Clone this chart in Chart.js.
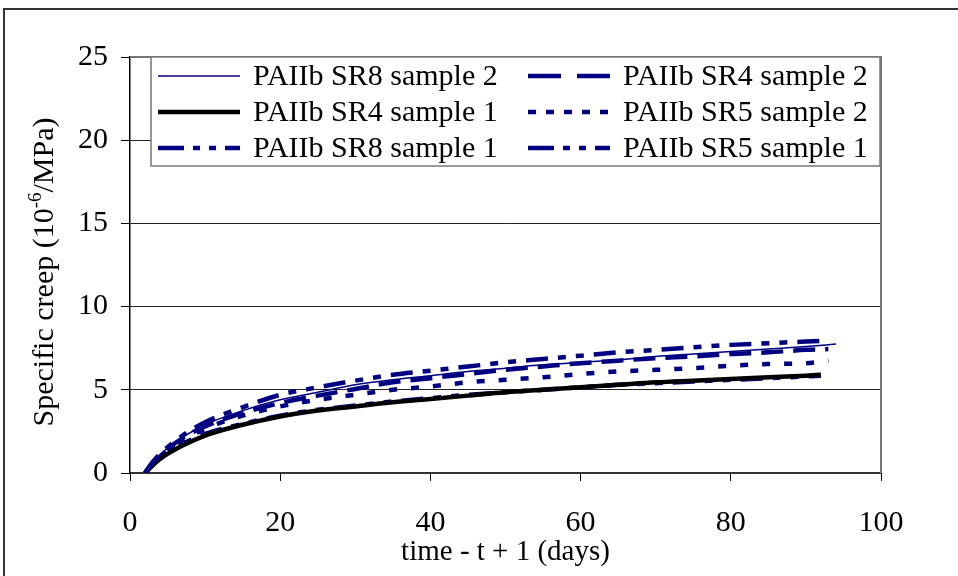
<!DOCTYPE html>
<html>
<head>
<meta charset="utf-8">
<script src="https://cdn.jsdelivr.net/npm/chart.js@4.4.1/dist/chart.umd.min.js"></script>
<style>
  body { margin: 0; background: #fff; overflow: hidden; }
  #wrap { position: relative; width: 958px; height: 576px; overflow: hidden; }
  #frame { position: absolute; left: 3px; top: 8px; width: 1000px; height: 1000px; border: 2px solid #333; pointer-events: none; }
  canvas { position: absolute; left: 0; top: 0; }
</style>
</head>
<body>
<div id="wrap">
  <canvas id="creepChart" width="958" height="576"></canvas>
  <div id="frame"></div>
</div>
<script>
// Specific creep curves
const days = [2, 3, 4, 5, 7, 10, 15, 20, 25, 30, 35, 40, 45, 50, 55, 60, 65, 70, 75, 80, 85, 90];
const seriesNames = ['PAIIb SR8 sample 2', 'PAIIb SR4 sample 2', 'PAIIb SR4 sample 1',
                     'PAIIb SR5 sample 2', 'PAIIb SR8 sample 1', 'PAIIb SR5 sample 1'];
const endDays = [94, 93, 92, 93, 93, 92];   // last reading of each series

const sr8s2 = [0, 0.6, 1.1, 1.5, 2.15, 2.9, 3.75, 4.4, 4.85, 5.3, 5.6, 5.85, 6.1, 6.3, 6.5, 6.65, 6.8, 7.0, 7.15, 7.3, 7.45, 7.6, 7.75];
const sr4s2 = [0, 0.6, 1.05, 1.45, 2.1, 2.8, 3.6, 4.2, 4.65, 5.05, 5.45, 5.7, 5.95, 6.2, 6.4, 6.6, 6.75, 6.9, 7.0, 7.15, 7.25, 7.4, 7.45];
const sr4s1 = [0, 0.45, 0.85, 1.15, 1.65, 2.25, 2.9, 3.4, 3.75, 4.0, 4.25, 4.45, 4.65, 4.85, 5.0, 5.15, 5.3, 5.45, 5.55, 5.65, 5.75, 5.85, 5.9];
const sr5s2 = [0, 0.55, 1.0, 1.35, 1.95, 2.65, 3.45, 4.0, 4.4, 4.7, 5.0, 5.2, 5.45, 5.6, 5.75, 5.95, 6.1, 6.2, 6.3, 6.45, 6.55, 6.6, 6.75];
const sr8s1 = [0, 0.65, 1.15, 1.55, 2.25, 3.05, 3.95, 4.7, 5.15, 5.55, 5.9, 6.15, 6.4, 6.65, 6.85, 7.05, 7.25, 7.4, 7.55, 7.7, 7.8, 7.9, 7.95];
const sr5s1 = [0, 0.5, 0.9, 1.25, 1.75, 2.35, 2.95, 3.45, 3.8, 4.05, 4.3, 4.5, 4.7, 4.85, 5.0, 5.15, 5.3, 5.4, 5.5, 5.6, 5.7, 5.8, 5.85];

const xTicks = [0, 20, 40, 60, 80, 100];
const yTicks = [0, 5, 10, 15, 20, 25];

const FONT = '"Liberation Serif", "Times New Roman", serif';
const NAVY = '#000080';

function toPoints(vals, end) {
    return vals.map((v, i) => ({ x: i < days.length ? days[i] : end, y: v }));
}

function makeSet(i, vals, color, width, dash, legendDash) {
    return {
        label: seriesNames[i],
        data: toPoints(vals, endDays[i]),
        borderColor: color,
        borderWidth: width,
        borderDash: dash,
        legendDash: legendDash,
        pointRadius: 0,
        fill: false,
        cubicInterpolationMode: 'monotone'
    };
}

// custom legend: two columns inside a box over the plot
const boxLegend = {
    id: 'boxLegend',
    afterDraw(chart) {
        const c = chart.ctx;
        const box = { left: 151, top: 57, right: 880, bottom: 166 };
        c.save();
        c.fillStyle = '#fff';
        c.fillRect(box.left, box.top, box.right - box.left, box.bottom - box.top);
        c.strokeStyle = '#777';
        c.lineWidth = 1.5;
        c.strokeRect(box.left, box.top, box.right - box.left, box.bottom - box.top);

        const colX = [158, 528];
        const rowY = [76, 112, 148];
        c.font = '30px ' + FONT;
        c.textBaseline = 'middle';
        c.fillStyle = '#000';
        chart.data.datasets.forEach((ds, i) => {
            const x = colX[i % 2], y = rowY[Math.floor(i / 2)];
            c.beginPath();
            c.strokeStyle = ds.borderColor;
            c.lineWidth = ds.borderWidth;
            c.setLineDash(ds.legendDash || []);
            c.moveTo(x, y);
            c.lineTo(x + 82, y);
            c.stroke();
            c.setLineDash([]);
            c.fillText(ds.label, x + 95, y + 1);
        });
        c.restore();
    }
};

// y-axis title with superscript, plus grey top/right plot border
const extras = {
    id: 'extras',
    beforeDatasetsDraw(chart) {
        const a = chart.chartArea, c = chart.ctx;
        c.save();
        c.strokeStyle = '#777';
        c.lineWidth = 2;
        c.beginPath();
        c.moveTo(a.left, a.top);
        c.lineTo(a.right, a.top);
        c.lineTo(a.right, a.bottom);
        c.stroke();
        c.restore();
    },
    afterDraw(chart) {
        const c = chart.ctx;
        const parts = [['Specific creep (10', '30px ' + FONT, 0],
                       ['-6', '19px ' + FONT, -9],
                       ['/MPa)', '30px ' + FONT, 0]];
        c.save();
        c.translate(45, 272);
        c.rotate(-Math.PI / 2);
        c.textBaseline = 'middle';
        c.fillStyle = '#000';
        let total = 0;
        parts.forEach(p => { c.font = p[1]; total += c.measureText(p[0]).width; });
        let x = -total / 2;
        parts.forEach(p => {
            c.font = p[1];
            c.fillText(p[0], x, p[2]);
            x += c.measureText(p[0]).width;
        });
        c.restore();
    }
};

const ctx = document.getElementById('creepChart').getContext('2d');
const creepChart = new Chart(ctx, {
    type: 'line',
    data: {
        datasets: [
            makeSet(0, sr8s2, NAVY, 1.5, [], []),
            makeSet(1, sr4s2, NAVY, 4.5, [22, 10], [33, 16]),
            makeSet(2, sr4s1, '#000', 4.5, [], []),
            makeSet(3, sr5s2, NAVY, 4.5, [8, 14], [8, 10]),
            makeSet(4, sr8s1, NAVY, 4.5, [22, 10, 8, 10, 8, 10], [26, 9, 7, 9, 7, 9]),
            makeSet(5, sr5s1, NAVY, 4.5, [22, 10, 8, 10, 8, 10], [26, 9, 7, 9, 7, 9])
        ]
    },
    options: {
        responsive: false,
        animation: false,
        layout: { padding: { left: 0, top: 57, right: 77, bottom: 0 } },
        plugins: {
            legend: { display: false },
            tooltip: { enabled: false }
        },
        scales: {
            x: {
                type: 'linear',
                min: xTicks[0],
                max: xTicks[xTicks.length - 1],
                afterBuildTicks: s => { s.ticks = xTicks.map(v => ({ value: v })); },
                ticks: { color: '#000', font: { family: FONT, size: 30 }, padding: 24, maxRotation: 0 },
                grid: { drawOnChartArea: false, tickLength: 8, tickColor: '#000', tickWidth: 1 },
                border: { color: '#333', width: 2 },
                title: {
                    display: true,
                    text: 'time - t + 1 (days)',
                    color: '#000',
                    font: { family: FONT, size: 29 },
                    padding: { top: 0, bottom: 6 }
                },
                afterFit: s => { s.height = 103; }
            },
            y: {
                min: yTicks[0],
                max: yTicks[yTicks.length - 1],
                afterBuildTicks: s => { s.ticks = yTicks.map(v => ({ value: v })); },
                ticks: { color: '#000', font: { family: FONT, size: 30 }, padding: 13 },
                grid: { color: '#222', lineWidth: 1, tickLength: 9, tickColor: '#000' },
                border: { color: '#000', width: 1.5 },
                afterFit: s => { s.width = 130; }
            }
        }
    },
    plugins: [extras, boxLegend]
});
</script>
</body>
</html>
